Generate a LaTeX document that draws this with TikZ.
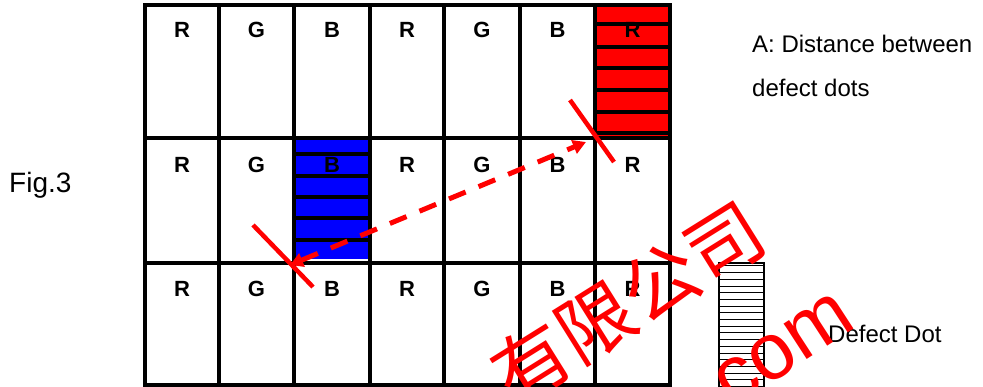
\documentclass[tikz,border=0pt]{standalone}
\usepackage{fontspec}
\setmainfont{Liberation Sans}
\newfontfamily\cjkfont{Noto Sans CJK SC}
\usetikzlibrary{arrows.meta}
\begin{document}
\begin{tikzpicture}[x=1pt,y=-1pt,
  gridline/.style={line width=4pt, line cap=rect},
  stripe/.style={line width=4pt},
  lbl/.style={font=\fontsize{22}{22}\selectfont\bfseries, anchor=base, inner sep=0pt},
  note/.style={font=\fontsize{24}{24}\selectfont, anchor=base west, inner sep=0pt},
  redline/.style={red, line width=4.5pt},
  wm/.style={text=red, inner sep=0pt}]
\useasboundingbox[fill=white] (0,0) rectangle (983,387);

% defective cells
\fill[red] (597,7) rectangle (668,136);
\foreach \y in {24,47,68,90,112,133} \draw[stripe] (597,\y) -- (668,\y);
\fill[blue] (296,140) rectangle (368,259);
\foreach \y in {154,176,197,218,240} \draw[stripe] (296,\y) -- (368,\y);

% grid
\foreach \x in {145,219,294,370,444,520,595,670} \draw[gridline] (\x,5) -- (\x,385);
\foreach \y in {5,138,263,385} \draw[gridline] (145,\y) -- (670,\y);

% sub-pixel labels
\foreach \r/\yb in {1/38,2/173,3/297} {
  \foreach \c/\xc/\t in {1/182/R,2/256.5/G,3/332/B,4/407/R,5/482/G,6/557.5/B,7/632.5/R}
    \node[lbl] (l\r\c) at (\xc,\yb) {\t};
}

% distance arrow and ticks
\coordinate (pA) at (290,265);
\coordinate (pB) at (586,142);
\coordinate (t1a) at (253,225);
\coordinate (t1b) at (313,287);
\coordinate (t2a) at (570,100);
\coordinate (t2b) at (614,162);
\draw[redline] (t1a) -- (t1b);
\draw[redline] (t2a) -- (t2b);
\draw[redline, line width=5pt, dash pattern=on 18pt off 14pt,
  {Triangle[length=13pt,width=14pt]}-{Triangle[length=13pt,width=14pt]}] (pA) -- (pB);

% legend
\draw[line width=1.5pt] (719,263) rectangle (764,392);
\foreach \i in {0,...,18} \draw[line width=1pt] (719,266+6.7*\i) -- (764,266+6.7*\i);

% texts
\node[font=\fontsize{28}{28}\selectfont, anchor=base west, inner sep=0pt] (fig) at (9,193) {Fig.3};
\node[note] (tA) at (752,53) {A: Distance between};
\node[note] (tB) at (752,97) {defect dots};
\node[note] (tD) at (828,343) {Defect Dot};

% watermark
\node[wm, rotate=32, font=\cjkfont\fontsize{76}{76}\selectfont] (wm1) at (628,302) {有限公司};
\node[wm, rotate=33, font=\fontsize{80}{80}\selectfont] (wm2) at (784,350) {com};
\end{tikzpicture}
\end{document}
